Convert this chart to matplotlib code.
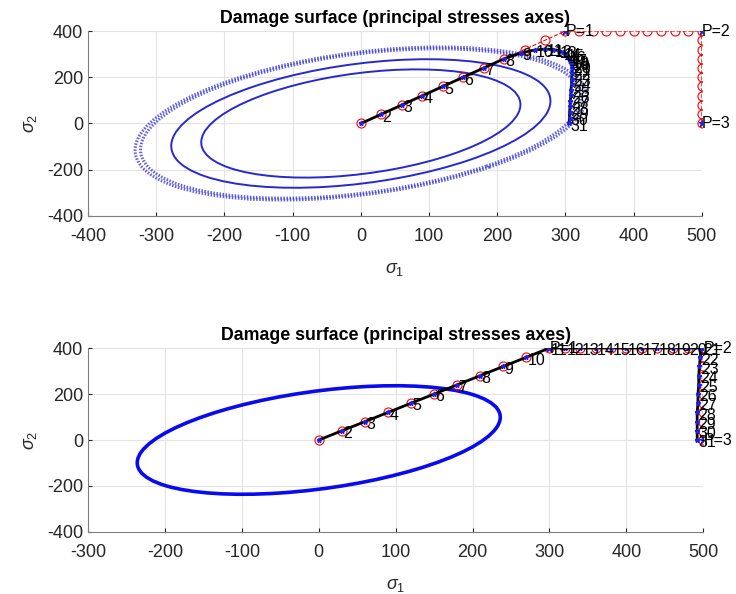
"""Damage surface plots in principal stress axes (two loading cases)."""

import numpy as np
import matplotlib
matplotlib.use("Agg")
import matplotlib.pyplot as plt
from matplotlib.patches import Ellipse

plt.rcParams["font.family"] = ["Liberation Sans", "DejaVu Sans"]
plt.rcParams["axes.unicode_minus"] = False
plt.rcParams["mathtext.fontset"] = "custom"
plt.rcParams["mathtext.it"] = "Liberation Sans:italic"
plt.rcParams["mathtext.rm"] = "Liberation Sans"

# applied path (red): diagonal to P=1, horizontal to P=2, down to P=3
applied_s1 = [0, 30, 60, 90, 120, 150, 180, 210, 240, 270, 300,
              320, 340, 360, 380, 400, 420, 440, 460, 480, 500,
              500, 500, 500, 500, 500, 500, 500, 500, 500, 500]
applied_s2 = [0, 40, 80, 120, 160, 200, 240, 280, 320, 360, 400,
              400, 400, 400, 400, 400, 400, 400, 400, 400, 400,
              360, 320, 280, 240, 200, 160, 120, 80, 40, 0]
corner_idx = [10, 20, 30]
corner_labels = ["P=1", "P=2", "P=3"]

# stress path, top case (limited by the damage surface)
top_s1 = [0, 30, 60, 90, 120, 150, 180, 210, 235, 255, 270,
          282, 290, 296, 300, 303, 305, 307, 308, 309, 310,
          310, 309, 309, 308, 308, 307, 307, 306, 306, 305]
top_s2 = [0, 40, 80, 120, 160, 200, 240, 280, 305, 318, 322,
          320, 315, 308, 300, 291, 282, 272, 262, 252, 242,
          218, 194, 170, 146, 122, 98, 74, 50, 25, 0]

# stress path, bottom case (follows the applied path)
bot_s1 = [0, 30, 60, 90, 120, 150, 180, 210, 240, 270, 300,
          320, 340, 360, 380, 400, 420, 440, 460, 480, 498,
          496, 495, 494, 494, 493, 493, 492, 492, 492, 492]
bot_s2 = applied_s2

# damage surfaces: max |s1| reached by each surface and the coupling term
top_reach = [234, 278, 323, 331]
top_coupling = 0.35
bot_reach = [236]
bot_coupling = 0.42

GREY = "#262626"
BLUE = "#2020e0"


def damage_ellipse(m, c, **kw):
    # s1^2 - 2c*s1*s2 + s2^2 = k^2, with max |s1| = m
    k = m * np.sqrt(1 - c * c)
    return Ellipse((0, 0), 2 * k / np.sqrt(1 - c), 2 * k / np.sqrt(1 + c),
                   angle=45, fill=False, **kw)


def draw_panel(ax, reach, coupling, s1, s2, xlim, ring_style):
    for i, m in enumerate(reach):
        ax.add_patch(damage_ellipse(m, coupling, **ring_style(i)))
    ax.plot(applied_s1, applied_s2, "r--o", mfc="none", ms=6.5, lw=0.8, mew=0.8)
    ax.plot(s1, s2, "k-", lw=2)
    ax.plot(s1, s2, "*", color=BLUE, ms=3.5)
    for i in range(1, len(s1)):
        ax.annotate(str(i + 1), (s1[i], s2[i]), xytext=(1, -2),
                    textcoords="offset points", ha="left", va="center",
                    fontsize=11.5)
    for idx, lab in zip(corner_idx, corner_labels):
        ax.plot(applied_s1[idx], applied_s2[idx], "*", color=BLUE, ms=5)
        ax.text(applied_s1[idx], applied_s2[idx], lab, ha="left", va="center",
                fontsize=11.5)
    ax.set_xlim(xlim)
    ax.set_ylim(-400, 400)
    ax.set_xticks(np.arange(xlim[0], xlim[1] + 1, 100))
    ax.set_yticks(np.arange(-400, 401, 200))
    ax.grid(True, color="#e3e3e3", lw=0.8)
    ax.set_axisbelow(True)
    for side in ["top", "right"]:
        ax.spines[side].set_visible(False)
    for side in ["left", "bottom"]:
        ax.spines[side].set_color("#808080")
    ax.tick_params(direction="in", length=3, labelsize=13, colors=GREY)
    ax.tick_params(axis="x", pad=9)
    ax.set_xlabel(r"$\sigma_1$", fontsize=13, color=GREY, labelpad=11)
    ax.set_ylabel(r"$\sigma_2$", fontsize=13, color=GREY, labelpad=6)
    ax.set_title("Damage surface (principal stresses axes)", fontsize=12.8,
                 fontweight="bold", pad=6)


def top_rings(i):
    if i >= 2:
        return dict(edgecolor="#3a3ad8", lw=2.2, ls=(0, (0.5, 0.5)), alpha=0.8)
    return dict(edgecolor="#2828d0", lw=1.4)


def bot_rings(i):
    return dict(edgecolor="#0a0af0", lw=2.6)


fig = plt.figure(figsize=(7.36, 5.94), dpi=100)
ax1 = fig.add_axes([0.1196, 0.6364, 0.834, 0.3114])
ax2 = fig.add_axes([0.1196, 0.1044, 0.836, 0.3097])

draw_panel(ax1, top_reach, top_coupling, top_s1, top_s2, (-400, 500), top_rings)
draw_panel(ax2, bot_reach, bot_coupling, bot_s1, bot_s2, (-300, 500), bot_rings)

fig.savefig("out.png", dpi=100)
